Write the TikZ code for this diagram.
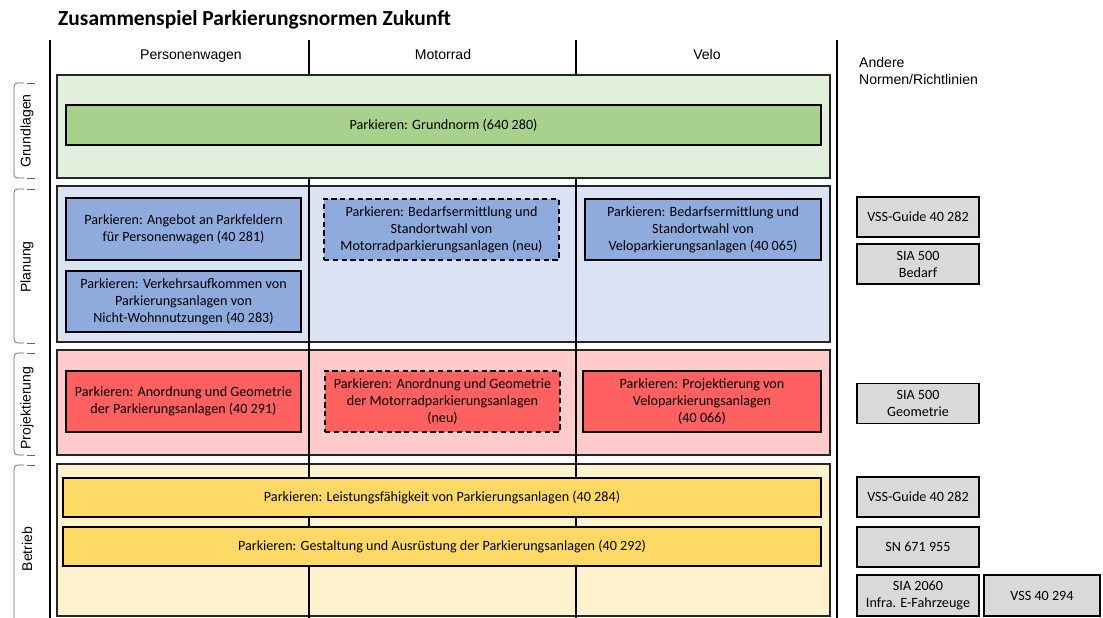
\documentclass[tikz,border=0pt]{standalone}
\usepackage{fontspec}
\setmainfont{Carlito}
\newfontfamily\arialfont{Liberation Sans}
\definecolor{palegreen}{HTML}{E2EFDA}
\definecolor{leafgreen}{HTML}{A9D18E}
\definecolor{paleblue}{HTML}{DAE3F3}
\definecolor{skyblue}{HTML}{8FAADC}
\definecolor{palered}{HTML}{FFCBCB}
\definecolor{coral}{HTML}{FF6161}
\definecolor{paleyellow}{HTML}{FFF2CC}
\definecolor{sunyellow}{HTML}{FFD966}
\definecolor{lightgrey}{HTML}{D9D9D9}
\newcommand{\boxfont}{\fontsize{8.05}{9.7}\selectfont}
\newcommand{\headfont}{\arialfont\fontsize{8}{9.2}\selectfont}

\tikzset{
  band/.style={draw=black!85, line width=0.7pt, minimum width=15.46cm},
  norm/.style={draw, line width=0.8pt, align=center, font=\boxfont, inner sep=1pt},
  newnorm/.style={norm, dash pattern=on 3pt off 2pt},
  othernorm/.style={norm, fill=lightgrey, minimum width=2.44cm, minimum height=0.8cm},
  colhead/.style={font=\headfont, anchor=base},
  phase/.style={rotate=90, font=\headfont},
  bracket/.style={black!60, line width=0.4pt},
}

\begin{document}
\begin{tikzpicture}[x=0.02cm, y=-0.02cm]
\useasboundingbox (0,0) rectangle (1103,618);

\node[anchor=west, font=\fontsize{12.2}{13}\selectfont\bfseries] (title) at (52,20) {Zusammenspiel Parkierungsnormen Zukunft};

% column heads
\node[colhead] (pw) at (191,60) {Personenwagen};
\node[colhead] (moto) at (443,60) {Motorrad};
\node[colhead] (velo) at (707,60) {Velo};
\node[font=\headfont, anchor=west, align=left] (andere) at (853,71) {Andere\\Normen/Richtlinien};

% phase bands
\node[band, fill=paleblue, minimum height=3.12cm] (planband) at (443.5,264) {};
\node[band, fill=palered, minimum height=2.1cm] (projband) at (443.5,402.5) {};
\node[band, fill=paleyellow, minimum height=3.04cm] (betrband) at (443.5,540) {};

\draw[line width=0.6pt] (309,40) -- (309,618);
\draw[line width=0.6pt] (576,40) -- (576,618);
\draw[line width=1.2pt] (50,40) -- (50,618);
\draw[line width=1.2pt] (837,40) -- (837,618);

\node[band, fill=palegreen, minimum height=2.06cm] (grundband) at (443.5,126.5) {};

% phase labels
\node[phase] (grundlbl) at (27,131) {Grundlagen};
\node[phase] (planlbl) at (27,267) {Planung};
\node[phase] (projlbl) at (27,408) {Projektierung};
\node[phase] (betrlbl) at (27,549) {Betrieb};
\foreach \top/\bot in {83/178, 189/343, 353/455, 465/640}{
  \draw[bracket, rounded corners=2pt] (24,\top) -- (14,\top) -- (14,\bot) -- (24,\bot);
  \draw[bracket] (27,\top) -- (35,\top) (27,\bot) -- (35,\bot);
}

% Grundlagen
\node[norm, fill=leafgreen, minimum width=15.1cm, minimum height=0.8cm] (grundnorm) at (443.5,125) {Parkieren: Grundnorm (640 280)};

% Planung
\node[norm, fill=skyblue, minimum width=4.7cm, minimum height=1.24cm] (angebot) at (183.5,229) {Parkieren: Angebot an Parkfeldern\\für Personenwagen (40 281)};
\node[norm, fill=skyblue, minimum width=4.7cm, minimum height=1.22cm] (verkehr) at (183.5,301.5) {Parkieren: Verkehrsaufkommen von\\Parkierungsanlagen von\\Nicht-Wohnnutzungen (40 283)};
\node[newnorm, fill=skyblue, minimum width=4.7cm, minimum height=1.22cm] (bedarfmoto) at (441.5,229.5) {Parkieren: Bedarfsermittlung und\\Standortwahl von\\Motorradparkierungsanlagen (neu)};
\node[norm, fill=skyblue, minimum width=4.72cm, minimum height=1.22cm] (bedarfvelo) at (703,229.5) {Parkieren: Bedarfsermittlung und\\Standortwahl von\\Veloparkierungsanlagen (40 065)};

% Projektierung
\node[norm, fill=coral, minimum width=4.7cm, minimum height=1.22cm] (geompw) at (183.5,401.5) {Parkieren: Anordnung und Geometrie\\der Parkierungsanlagen (40 291)};
\node[newnorm, fill=coral, minimum width=4.7cm, minimum height=1.22cm] (geommoto) at (442.5,401.5) {Parkieren: Anordnung und Geometrie\\der Motorradparkierungsanlagen\\(neu)};
\node[norm, fill=coral, minimum width=4.76cm, minimum height=1.22cm] (projvelo) at (702,401.5) {Parkieren: Projektierung von\\Veloparkierungsanlagen\\(40 066)};

% Betrieb
\node[norm, fill=sunyellow, minimum width=15.16cm, minimum height=0.78cm] (leistung) at (442,497.5) {Parkieren: Leistungsfähigkeit von Parkierungsanlagen (40 284)};
\node[norm, fill=sunyellow, minimum width=15.16cm, minimum height=0.78cm] (gestaltung) at (442,546.5) {Parkieren: Gestaltung und Ausrüstung der Parkierungsanlagen (40 292)};

% other norms
\node[othernorm] (vssplan) at (918,217) {VSS-Guide 40 282};
\node[othernorm] (siabedarf) at (918,264) {SIA 500\\Bedarf};
\node[othernorm] (siageom) at (918,403.5) {SIA 500\\Geometrie};
\node[othernorm] (vssbetr) at (918,497) {VSS-Guide 40 282};
\node[othernorm] (sn) at (918,547) {SN 671 955};
\node[othernorm, minimum height=0.82cm] (sia2060) at (918,595.5) {SIA 2060\\Infra. E-Fahrzeuge};
\node[othernorm, minimum width=2.32cm, minimum height=0.82cm] (vss294) at (1042,595.5) {VSS 40 294};

\end{tikzpicture}
\end{document}
